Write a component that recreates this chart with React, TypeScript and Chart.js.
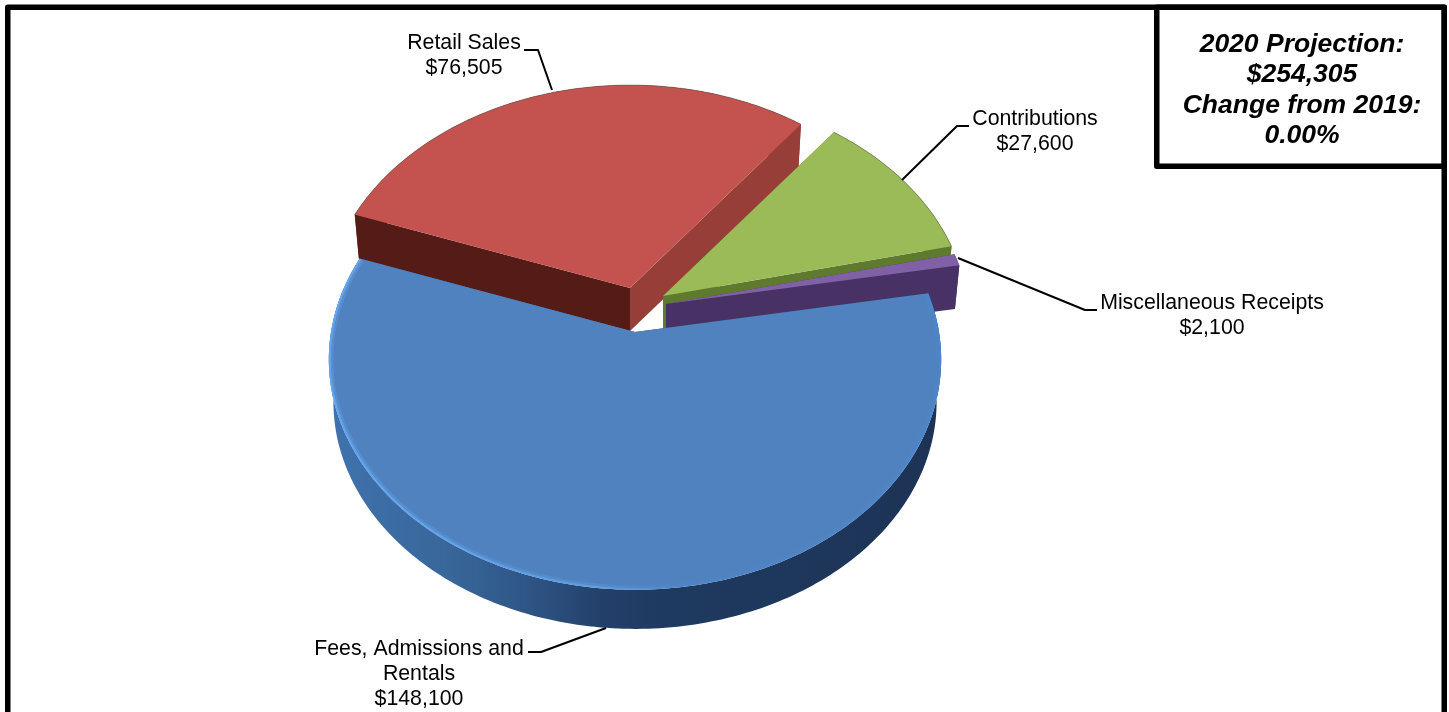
import React, { useEffect, useRef } from "react";
import { Chart, registerables } from "chart.js";

Chart.register(...registerables);

// Revenue sources and their 2020 amounts
const categories = ["Fees, Admissions and Rentals", "Retail Sales", "Contributions", "Miscellaneous Receipts"];
const amounts = [148100, 76505, 27600, 2100];
const sliceColors = ["#5082BF", "#C4524F", "#9ABB57", "#8061A6"];
const summaryLines = ["2020 Projection:", "$254,305", "Change from 2019:", "0.00%"];

// Drawing style for each slice, in the same order as the categories
const sliceStyles = [
  { shift: [0, 0], startWall: "#2a4a78", endWall: "#2a4a78", side: "#2a4a78" },
  { shift: [-5, -44], startWall: "#551C17", endWall: "#973E39", side: "#973E39" },
  { shift: [28, -36], startWall: "#5F7A2E", endWall: "#5F7A2E", side: "#5F7A2E" },
  { shift: [31, -28], startWall: "#483165", endWall: "#483165", side: "#483165" },
];
const paintOrder = [1, 2, 3, 0];

// Text block and leader line for each slice
const labelStyles = [
  { lines: ["Fees, Admissions and", "Rentals"], x: 419, y: 649, leader: [[528, 652], [541, 652], [606, 628]] },
  { lines: ["Retail Sales"], x: 464, y: 43, leader: [[524, 50], [538, 50], [552, 90]] },
  { lines: ["Contributions"], x: 1035, y: 119, leader: [[969, 126], [957, 126], [902, 180]] },
  { lines: ["Miscellaneous Receipts"], x: 1212, y: 303, leader: [[1097, 310], [1085, 310], [958, 258]] },
];

// View of the tilted disc
const PERSPECTIVE = 0.119;
const TILT = 0.747;
const DEPTH = 43;
const BASE_SCALE = 0.985;

type Pt = [number, number];

const project = (cx: number, cy: number, r: number, theta: number): Pt => {
  const u = r * Math.sin(theta);
  const v = -r * Math.cos(theta);
  const w = 1 - (PERSPECTIVE * v) / r;
  return [cx + u / w, cy + (TILT * v) / w];
};

const polygon = (ctx: CanvasRenderingContext2D, pts: Pt[]) => {
  ctx.beginPath();
  pts.forEach((p, i) => (i ? ctx.lineTo(p[0], p[1]) : ctx.moveTo(p[0], p[1])));
  ctx.closePath();
};

const pie3dPlugin = {
  id: "pie3d",
  beforeDatasetDraw(chart: any) {
    const { ctx } = chart;
    const arcs = chart.getDatasetMeta(0).data;
    ctx.save();
    paintOrder.forEach((i) => {
      const arc = arcs[i];
      const { x, y, startAngle, endAngle, outerRadius } = arc.getProps(
        ["x", "y", "startAngle", "endAngle", "outerRadius"],
        true
      );
      const style = sliceStyles[i];
      const cx = x + style.shift[0];
      const cy = y + style.shift[1];
      const a0 = startAngle + Math.PI / 2;
      const a1 = endAngle + Math.PI / 2;
      const steps = Math.max(2, Math.ceil(((a1 - a0) * 180) / Math.PI));
      const rim: Pt[] = [];
      for (let s = 0; s <= steps; s++) rim.push(project(cx, cy, outerRadius, a0 + ((a1 - a0) * s) / steps));
      const toBase = (p: Pt): Pt => [cx + (p[0] - cx) * BASE_SCALE, cy + (p[1] - cy) * BASE_SCALE + DEPTH];
      const apex: Pt = [cx, cy];
      const first = rim[0];
      const last = rim[rim.length - 1];

      // outer wall
      polygon(ctx, [...rim, ...rim.slice().reverse().map(toBase)]);
      if (i === 0) {
        const g = ctx.createLinearGradient(330, 0, 940, 0);
        g.addColorStop(0, "#3F72AE");
        g.addColorStop(0.2, "#386699");
        g.addColorStop(0.33, "#2E5485");
        g.addColorStop(0.45, "#233F69");
        g.addColorStop(0.55, "#1F3A60");
        g.addColorStop(1, "#1C3355");
        ctx.fillStyle = g;
      } else {
        ctx.fillStyle = style.side;
      }
      ctx.fill();

      // cut faces of the wedge
      polygon(ctx, [apex, first, toBase(first), toBase(apex)]);
      ctx.fillStyle = style.startWall;
      ctx.fill();
      polygon(ctx, [apex, last, toBase(last), toBase(apex)]);
      ctx.fillStyle = style.endWall;
      ctx.fill();

      // top face
      polygon(ctx, [apex, ...rim]);
      ctx.fillStyle = arc.options.backgroundColor;
      ctx.fill();

      if (i === 0) {
        // soft highlight following the rounded front edge
        ctx.save();
        polygon(ctx, [apex, ...rim]);
        ctx.clip();
        const g = ctx.createLinearGradient(330, 0, 940, 0);
        g.addColorStop(0, "rgba(105,175,250,0.9)");
        g.addColorStop(0.45, "rgba(105,175,250,0.6)");
        g.addColorStop(0.6, "rgba(80,140,215,0.25)");
        g.addColorStop(1, "rgba(70,140,220,0.45)");
        ctx.strokeStyle = g;
        ctx.beginPath();
        rim.forEach((p, n) => (n ? ctx.lineTo(p[0], p[1]) : ctx.moveTo(p[0], p[1])));
        ctx.lineWidth = 9;
        ctx.globalAlpha = 0.3;
        ctx.stroke();
        ctx.lineWidth = 4;
        ctx.globalAlpha = 0.8;
        ctx.stroke();
        ctx.restore();
      } else if (i !== 3) {
        // faint dark line along the far edge
        ctx.beginPath();
        rim.forEach((p, n) => (n ? ctx.lineTo(p[0], p[1]) : ctx.moveTo(p[0], p[1])));
        ctx.strokeStyle = "rgba(70,70,60,0.45)";
        ctx.lineWidth = 1;
        ctx.stroke();
      }
    });
    ctx.restore();
    return false;
  },
  afterDraw(chart: any) {
    const { ctx } = chart;
    ctx.save();

    // leader lines and labels
    ctx.strokeStyle = "#000";
    ctx.lineWidth = 2;
    ctx.lineJoin = "round";
    labelStyles.forEach((label) => {
      ctx.beginPath();
      label.leader.forEach((p, n) => (n ? ctx.lineTo(p[0], p[1]) : ctx.moveTo(p[0], p[1])));
      ctx.stroke();
    });
    ctx.fillStyle = "#000";
    ctx.font = '21.3px "Liberation Sans"';
    ctx.textAlign = "center";
    ctx.textBaseline = "middle";
    labelStyles.forEach((label, i) => {
      const rows = [...label.lines, "$" + amounts[i].toLocaleString("en-US")];
      rows.forEach((row, n) => ctx.fillText(row, label.x, label.y + n * 25));
    });

    // outer frame and summary box
    ctx.lineWidth = 5.5;
    ctx.lineJoin = "round";
    ctx.strokeRect(7.75, 7.25, 1436.5, 720);
    ctx.strokeRect(1156.75, 7.25, 287.5, 159);
    ctx.font = 'italic bold 26.5px "Liberation Sans"';
    summaryLines.forEach((row, n) => ctx.fillText(row, 1302, 44.5 + n * 30.5));
    ctx.restore();
  },
};

export default function App() {
  const canvasRef = useRef<HTMLCanvasElement>(null);

  useEffect(() => {
    const chart = new Chart(canvasRef.current as HTMLCanvasElement, {
      type: "pie",
      data: {
        labels: categories,
        datasets: [{ data: amounts, backgroundColor: sliceColors, borderWidth: 0 }],
      },
      options: {
        animation: false,
        responsive: false,
        rotation: 80,
        layout: { padding: { left: 331, right: 510, top: 28, bottom: 76 } },
        plugins: { legend: { display: false }, tooltip: { enabled: false } },
      },
      plugins: [pie3dPlugin],
    });
    return () => chart.destroy();
  }, []);

  return (
    <div style={{ position: "absolute", left: 0, top: 0, width: 1449, height: 712, overflow: "hidden", background: "#fff" }}>
      <canvas ref={canvasRef} width={1449} height={712} style={{ display: "block" }} />
    </div>
  );
}
